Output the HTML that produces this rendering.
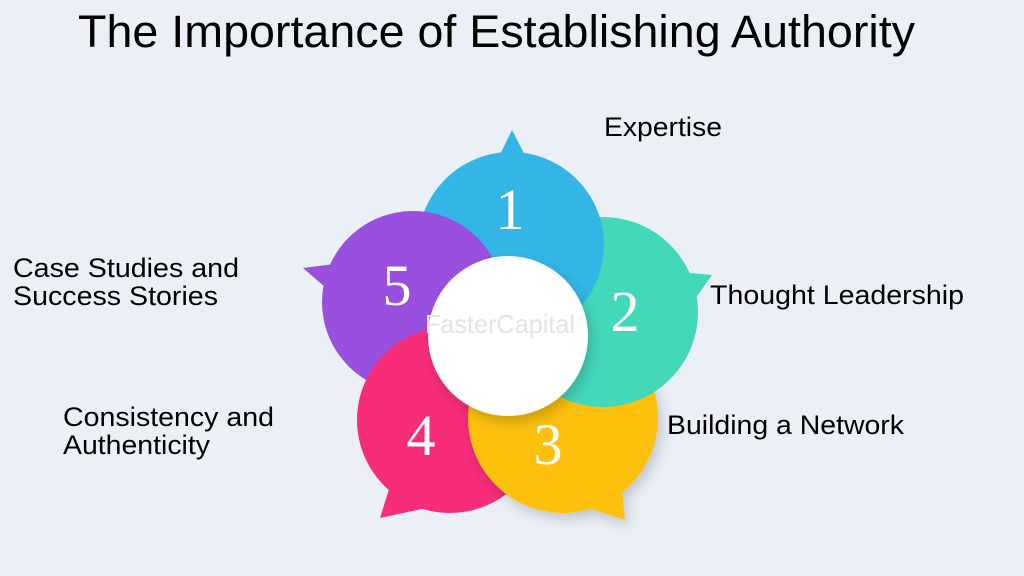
<!DOCTYPE html>
<html><head><style>html,body{margin:0;padding:0;background:#ebf0f7;}svg{display:block}</style></head>
<body>
<svg width="1024" height="576" viewBox="0 0 1024 576" xmlns="http://www.w3.org/2000/svg">
<rect width="1024" height="576" fill="#ebf0f7"/>
<text x="78" y="47" font-family="Liberation Sans, sans-serif" font-size="45" fill="#000" textLength="837" lengthAdjust="spacingAndGlyphs">The Importance of Establishing Authority</text>
<defs>
<clipPath id="cb"><circle cx="511" cy="245" r="93"/></clipPath>
<filter id="sh" x="-20%" y="-20%" width="140%" height="140%"><feDropShadow dx="4" dy="6" stdDeviation="6" flood-color="#000" flood-opacity="0.18"/></filter>
</defs>
<g fill="#9a50df">
<circle cx="413" cy="302" r="91"/>
<path d="M303 268 L350 262 L340 300 Z"/>
</g>
<g fill="#f72d7a">
<circle cx="450" cy="420" r="93"/>
<path d="M380 518 L395 470 L440 505 Z"/>
</g>
<g fill="#fcc00a" filter="url(#sh)">
<circle cx="563" cy="418" r="95"/>
<path d="M625 520 L580 505 L620 470 Z"/>
</g>
<g fill="#44d8bb">
<circle cx="603" cy="312" r="95"/>
<path d="M712 275 L660 270 L680 320 Z"/>
</g>
<g fill="#33b6e6">
<circle cx="511" cy="245" r="93"/>
<path d="M512 130 L495 165 L530 165 Z"/>
</g>
<circle cx="413" cy="302" r="91" fill="#9a50df" clip-path="url(#cb)"/>
<circle cx="508" cy="336" r="80" fill="#fff" filter="url(#sh)"/>
<text x="500" y="333" font-family="Liberation Sans, sans-serif" font-size="26" fill="#e4e4e4" text-anchor="middle" textLength="150" lengthAdjust="spacingAndGlyphs">FasterCapital</text>
<g font-family="Liberation Serif, serif" font-size="58" fill="#fff" text-anchor="middle">
<text x="510" y="229">1</text>
<text x="625" y="331">2</text>
<text x="548" y="464">3</text>
<text x="421" y="455">4</text>
<text x="397" y="305">5</text>
</g>
<g font-family="Liberation Sans, sans-serif" font-size="27" fill="#000">
<text x="604" y="136" textLength="118" lengthAdjust="spacingAndGlyphs">Expertise</text>
<text x="710" y="304" textLength="254" lengthAdjust="spacingAndGlyphs">Thought Leadership</text>
<text x="667" y="434" textLength="237" lengthAdjust="spacingAndGlyphs">Building a Network</text>
<text x="13" y="277" textLength="226" lengthAdjust="spacingAndGlyphs">Case Studies and</text>
<text x="13" y="305" textLength="205" lengthAdjust="spacingAndGlyphs">Success Stories</text>
<text x="63" y="426" textLength="211" lengthAdjust="spacingAndGlyphs">Consistency and</text>
<text x="63" y="454" textLength="147" lengthAdjust="spacingAndGlyphs">Authenticity</text>
</g>
</svg>
</body></html>
